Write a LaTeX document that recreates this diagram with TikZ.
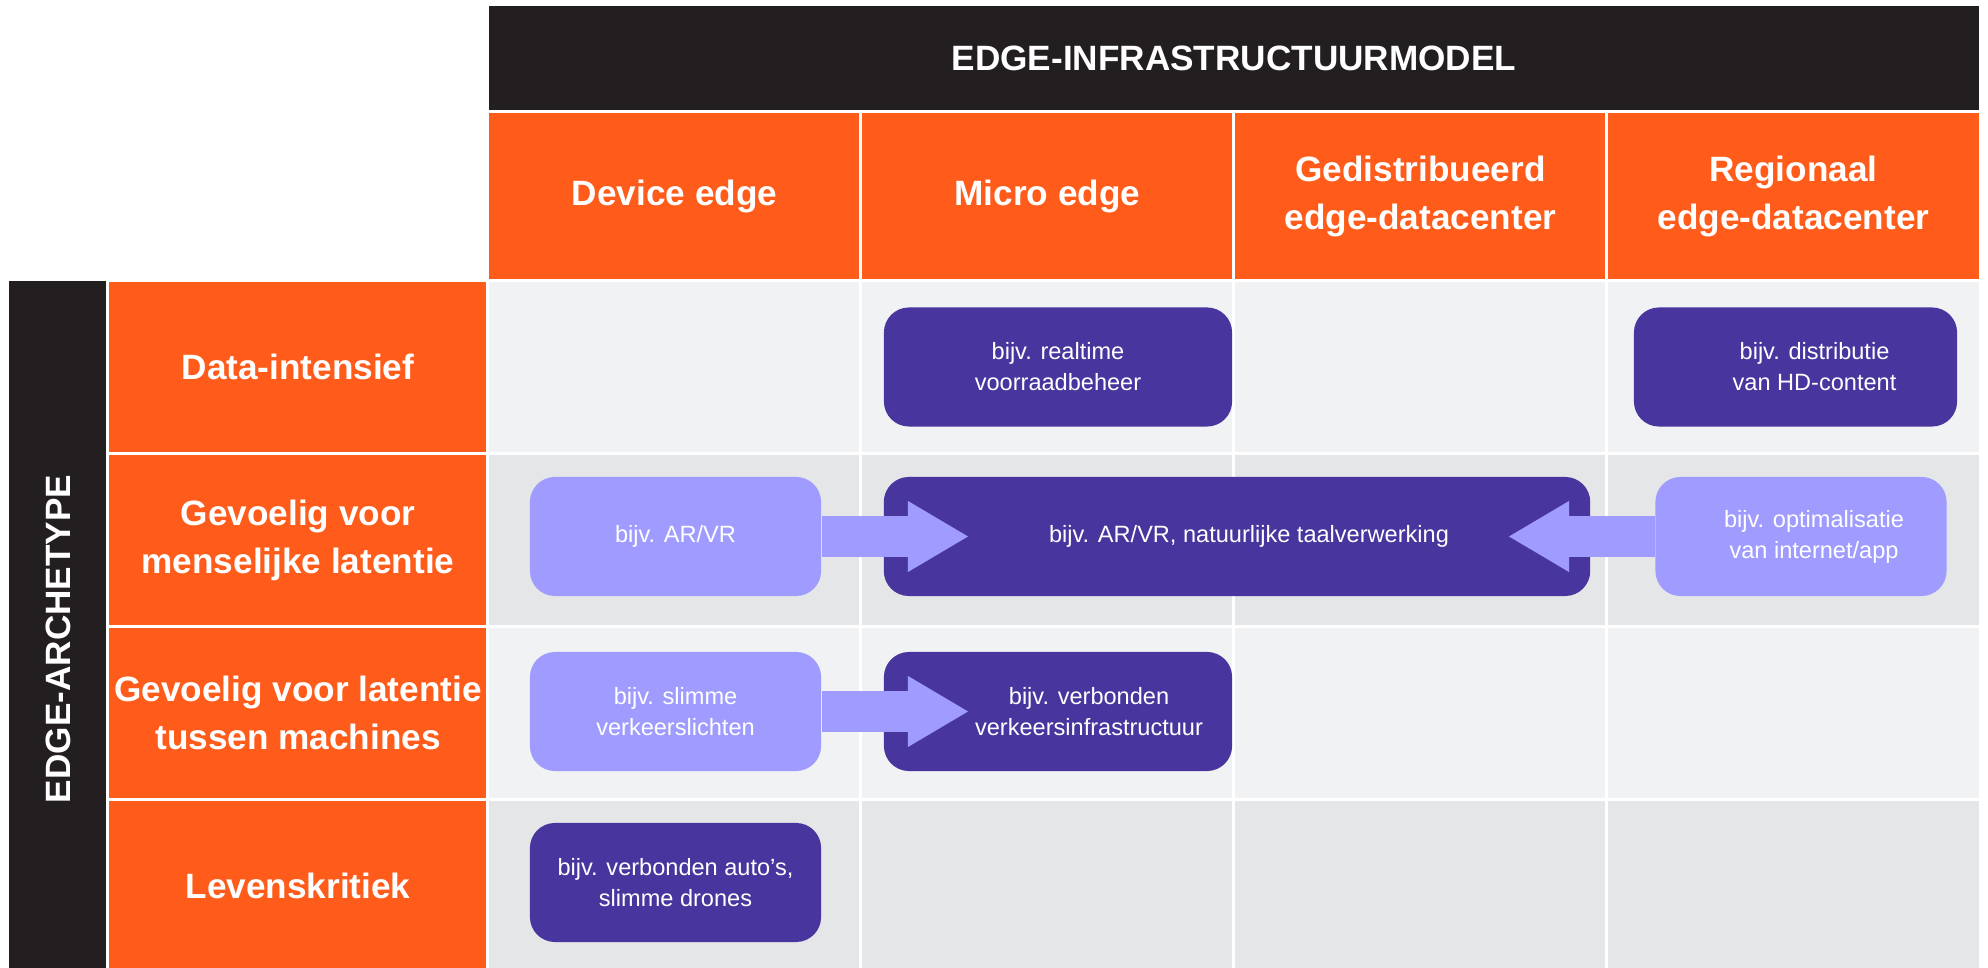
\documentclass[tikz,border=0pt]{standalone}
\usepackage{fontspec}
\setmainfont{Liberation Sans}
\usetikzlibrary{arrows.meta,positioning}
\definecolor{edgeorange}{HTML}{FF5C1B}
\definecolor{edgeblack}{HTML}{231F20}
\definecolor{edgedark}{HTML}{48369E}
\definecolor{edgelight}{HTML}{A09BFF}
\definecolor{cellone}{HTML}{F1F2F4}
\definecolor{celltwo}{HTML}{E5E6E8}
\begin{document}
\begin{tikzpicture}[x=0.01cm,y=-0.01cm,
  headfont/.style={font=\bfseries\fontsize{10}{13.6}\selectfont},
  boxfont/.style={font=\fontsize{6.7}{8.8}\selectfont},
  boxtext/.style={boxfont,text=white,align=center,inner sep=0pt},
  grid/.style={draw=white,line width=0.03cm,inner sep=0pt},
  cell/.style={grid,minimum width=3.73cm,minimum height=1.7275cm},
  colhead/.style={grid,fill=edgeorange,text=white,headfont,align=center,
    minimum width=3.73cm,minimum height=1.695cm},
  rowhead/.style={grid,fill=edgeorange,text=white,headfont,align=center,
    minimum width=3.8cm,minimum height=1.7275cm},
  darkbox/.style={fill=edgedark,text=white,boxfont,align=center,
    rounded corners=0.25cm,minimum height=1.19cm},
  lightbox/.style={darkbox,fill=edgelight,minimum width=2.91cm},
  bigarrow/.style={edgelight,line width=0.4cm,
    -{Triangle[width=0.71cm,length=0.6cm,line width=0pt]}}]
\useasboundingbox (0,0) rectangle (1988,968);
% title bars
\node[grid,fill=edgeblack,text=white,headfont,minimum width=14.92cm,
  minimum height=1.065cm] (model) at (1234,58) {EDGE-INFRASTRUCTUURMODEL};
\node[grid,fill=edgeblack,minimum width=1cm,minimum height=6.92cm] (bar) at (58,626) {};
\node[text=white,headfont,rotate=90] (archetype) at (58,639) {EDGE-ARCHETYPE};
% columns and rows
\foreach \c/\txt in {1/Device edge,2/Micro edge,
    3/{Gedistribueerd\\edge-datacenter},4/{Regionaal\\edge-datacenter}}
  \node[colhead] (col-\c) at ({488+373*(\c-0.5)},196.25) {\txt};
\foreach \r/\txt in {1/Data-intensief,2/{Gevoelig voor\\menselijke latentie},
    3/{Gevoelig voor latentie\\tussen machines},4/Levenskritiek}
  \node[rowhead] (row-\r) at (298,{281+172.75*(\r-0.5)}) {\txt};
\foreach \r/\shade in {1/cellone,2/celltwo,3/cellone,4/celltwo}
  \foreach \c in {1,...,4}
    \node[cell,fill=\shade] (c-\r-\c) at ({488+373*(\c-0.5)},{281+172.75*(\r-0.5)}) {};
% examples
\node[darkbox,minimum width=3.48cm] (realtime) at (1058,367) {bijv. realtime\\voorraadbeheer};
\node[darkbox,minimum width=3.23cm,
  label={[boxtext,xshift=0.19cm]center:{bijv. distributie\\van HD-content}}] (hdcontent) at (1795.5,367) {};
\node[lightbox] (arvr) at (675.5,536.5) {bijv. AR/VR};
\node[darkbox,minimum width=7.06cm,
  label={[boxtext,xshift=0.12cm]center:{bijv. AR/VR, natuurlijke taalverwerking}}] (taal) at (1237,536.5) {};
\node[lightbox,
  label={[boxtext,xshift=0.13cm]center:{bijv. optimalisatie\\van internet/app}}] (optim) at (1801,536.5) {};
\node[lightbox] (slim) at (675.5,711.5) {bijv. slimme\\verkeerslichten};
\node[darkbox,minimum width=3.48cm,
  label={[boxtext,xshift=0.31cm]center:{bijv. verbonden\\verkeersinfrastructuur}}] (verkeer) at (1058,711.5) {};
\node[darkbox,minimum width=2.91cm] (autos) at (675.5,882.5) {bijv. verbonden auto's,\\slimme drones};
% arrows
\coordinate (arvrtip) at (968,536.5);
\coordinate (optimtip) at (1509,536.5);
\coordinate (slimtip) at (968,711.5);
\draw[bigarrow] (arvr.east) -- (arvrtip);
\draw[bigarrow] (optim.west) -- (optimtip);
\draw[bigarrow] (slim.east) -- (slimtip);
\end{tikzpicture}
\end{document}
